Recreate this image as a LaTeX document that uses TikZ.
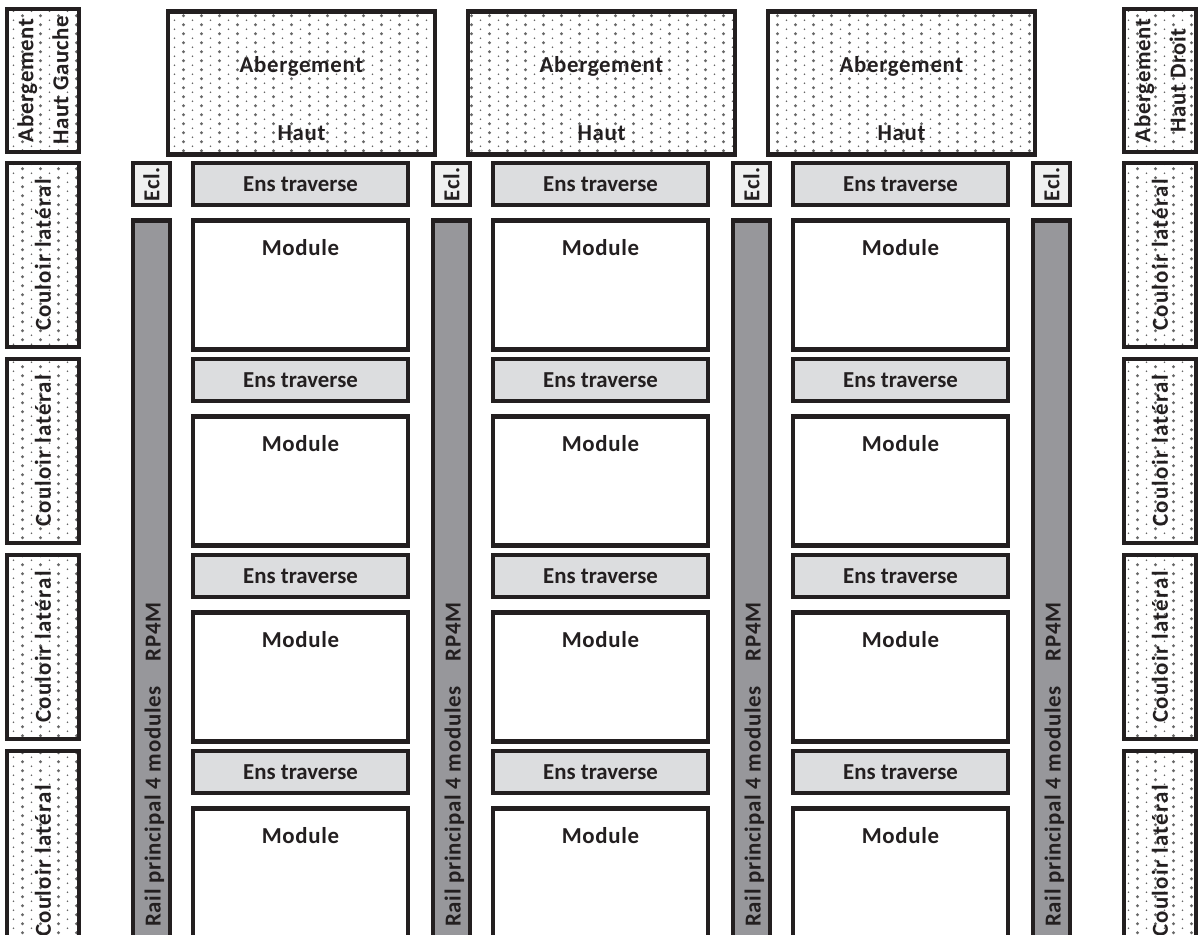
\documentclass[tikz,border=0pt]{standalone}
\usepackage{fontspec}
\setmainfont{Carlito}[LetterSpace=3]
\newfontfamily\tightfont{Carlito}
\newfontfamily\widefont{Carlito}[LetterSpace=6]
\usetikzlibrary{patterns}
\definecolor{ink}{RGB}{35,31,32}
\definecolor{railgray}{RGB}{151,151,155}
\definecolor{ensgray}{RGB}{220,221,223}
\definecolor{eclgray}{RGB}{240,240,240}
\pgfdeclarepatternformonly{stipple}{\pgfqpoint{0pt}{0pt}}{\pgfqpoint{10.24pt}{5.12pt}}{\pgfqpoint{10.24pt}{5.12pt}}{%
  \pgfpathcircle{\pgfqpoint{2.56pt}{1.28pt}}{0.9pt}%
  \pgfpathcircle{\pgfqpoint{7.68pt}{3.84pt}}{0.5pt}%
  \pgfusepath{fill}}

\begin{document}
\begin{tikzpicture}[x=0.02cm, y=-0.02cm,
    every node/.style={draw=ink, line width=2.6pt, inner sep=0pt, text=ink,
      font=\bfseries\fontsize{13}{15}\selectfont},
    dotted box/.style={pattern=stipple, pattern color=black!60},
    aber/.style={dotted box, anchor=north, minimum width=5.34cm, text height=1.22cm, text depth=1.64cm},
    side/.style={dotted box, rotate=90, minimum height=1.44cm, align=center},
    couloir/.style={side, font=\widefont\bfseries\fontsize{13}{15}\selectfont},
    ens/.style={fill=ensgray, minimum width=4.3cm, minimum height=0.84cm,
      font=\tightfont\bfseries\fontsize{13}{15}\selectfont},
    module/.style={anchor=north, minimum width=4.3cm, text height=0.7cm, text depth=1.88cm},
    ecl/.style={fill=eclgray, rotate=90, minimum width=0.84cm, minimum height=0.74cm},
    rail/.style={fill=railgray, anchor=north, minimum width=0.74cm, minimum height=14.8cm}]
  \clip (0,0) rectangle (1200,935);

  % haut
  \node[side, minimum width=2.86cm, font=\bfseries\fontsize{13}{20}\selectfont] (ahg) at (43,80.5) {Abergement\\Haut Gauche};
  \node[aber] (a1) at (301.5,9) {Abergement};
  \node[aber] (a2) at (601.5,9) {Abergement};
  \node[aber] (a3) at (901.5,9) {Abergement};
  \node[side, minimum width=2.86cm, font=\bfseries\fontsize{13}{20}\selectfont] (ahd) at (1160,80.5) {Abergement\\Haut Droit};
  \node[draw=none] (h1) at (301.5,133.5) {Haut};
  \node[draw=none] (h2) at (601.5,133.5) {Haut};
  \node[draw=none] (h3) at (901.5,133.5) {Haut};

  % couloirs
  \node[couloir, minimum width=3.68cm] (cg1) at (43,255) {Couloir latéral};
  \node[couloir, minimum width=3.68cm] (cg2) at (43,451) {Couloir latéral};
  \node[couloir, minimum width=3.68cm] (cg3) at (43,647) {Couloir latéral};
  \node[couloir, minimum width=4.4cm] (cg4) at (43,861) {Couloir latéral};
  \node[couloir, minimum width=3.68cm] (cd1) at (1160,255) {Couloir latéral};
  \node[couloir, minimum width=3.68cm] (cd2) at (1160,451) {Couloir latéral};
  \node[couloir, minimum width=3.68cm] (cd3) at (1160,647) {Couloir latéral};
  \node[couloir, minimum width=4.4cm] (cd4) at (1160,861) {Couloir latéral};

  % eclisses et rails
  \node[ecl] (e1) at (151.5,184) {Ecl.};
  \node[ecl] (e2) at (451.5,184) {Ecl.};
  \node[ecl] (e3) at (751.5,184) {Ecl.};
  \node[ecl] (e4) at (1051.5,184) {Ecl.};
  \node[rail] (r1) at (151.5,218) {};
  \node[rail] (r2) at (451.5,218) {};
  \node[rail] (r3) at (751.5,218) {};
  \node[rail] (r4) at (1051.5,218) {};
  \node[draw=none, rotate=90, anchor=west] (t1) at (154.5,929) {Rail principal 4 modules\hspace{1.1em}RP4M};
  \node[draw=none, rotate=90, anchor=west] (t2) at (454.5,929) {Rail principal 4 modules\hspace{1.1em}RP4M};
  \node[draw=none, rotate=90, anchor=west] (t3) at (754.5,929) {Rail principal 4 modules\hspace{1.1em}RP4M};
  \node[draw=none, rotate=90, anchor=west] (t4) at (1054.5,929) {Rail principal 4 modules\hspace{1.1em}RP4M};

  % traverses
  \node[ens] (s11) at (300.5,184) {Ens traverse};
  \node[ens] (s12) at (600.5,184) {Ens traverse};
  \node[ens] (s13) at (900.5,184) {Ens traverse};
  \node[ens] (s21) at (300.5,380) {Ens traverse};
  \node[ens] (s22) at (600.5,380) {Ens traverse};
  \node[ens] (s23) at (900.5,380) {Ens traverse};
  \node[ens] (s31) at (300.5,576) {Ens traverse};
  \node[ens] (s32) at (600.5,576) {Ens traverse};
  \node[ens] (s33) at (900.5,576) {Ens traverse};
  \node[ens] (s41) at (300.5,772) {Ens traverse};
  \node[ens] (s42) at (600.5,772) {Ens traverse};
  \node[ens] (s43) at (900.5,772) {Ens traverse};

  % modules
  \node[module] (m11) at (300.5,218) {Module};
  \node[module] (m12) at (600.5,218) {Module};
  \node[module] (m13) at (900.5,218) {Module};
  \node[module] (m21) at (300.5,414) {Module};
  \node[module] (m22) at (600.5,414) {Module};
  \node[module] (m23) at (900.5,414) {Module};
  \node[module] (m31) at (300.5,610) {Module};
  \node[module] (m32) at (600.5,610) {Module};
  \node[module] (m33) at (900.5,610) {Module};
  \node[module, text depth=2.4cm] (m41) at (300.5,806) {Module};
  \node[module, text depth=2.4cm] (m42) at (600.5,806) {Module};
  \node[module, text depth=2.4cm] (m43) at (900.5,806) {Module};
\end{tikzpicture}
\end{document}
